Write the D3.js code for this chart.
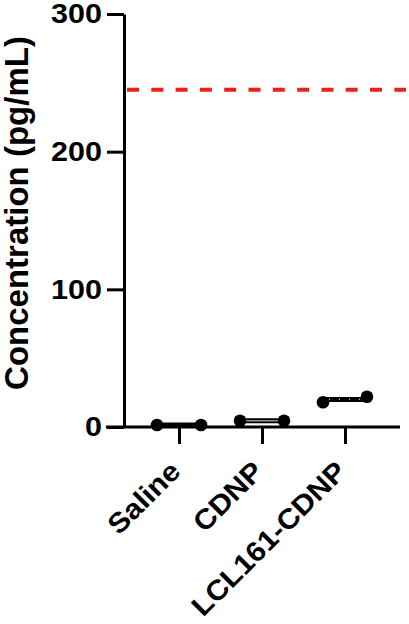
<!DOCTYPE html>
<html lang="en">
<head>
<meta charset="utf-8">
<title>Concentration</title>
<script src="https://d3js.org/d3.v7.min.js"></script>
<style>
  body { margin: 0; background: #fff; }
  text { font-family: "Liberation Sans", Arial, sans-serif; font-weight: bold; }
</style>
</head>
<body>
<div id="chart"></div>
<script>
    // Data
    const groups = ["Saline", "CDNP", "LCL161-CDNP"];
    const values = [[1.5, 1.5], [4.5, 4.5], [18, 22]];
    const yTicks = [0, 100, 200, 300];
    const threshold = 245;
    const yLabel = "Concentration (pg/mL)";

    const width = 409, height = 624;

    const svg = d3.select("#chart").append("svg")
        .attr("width", width)
        .attr("height", height);

    // Scales
    const x = d3.scalePoint()
        .domain(groups)
        .range([124, 400])
        .padding(0.663);

    const y = d3.scaleLinear()
        .domain([0, 300])
        .range([427, 14]);

    // Y axis
    const yAxis = svg.append("g")
        .attr("transform", "translate(124,0)")
        .call(d3.axisLeft(y).tickValues(yTicks).tickSize(17).tickSizeOuter(0));
    yAxis.select(".domain").attr("stroke-width", 3);
    yAxis.selectAll(".tick line").attr("stroke-width", 3);
    yAxis.selectAll(".tick text")
        .attr("x", 0)
        .attr("transform", "translate(-22,0) scale(1.09,1)")
        .attr("font-size", 28)
        .attr("font-family", "Liberation Sans, Arial, sans-serif")
        .attr("font-weight", "bold")
        .attr("fill", "#000");

    // X axis (extends left past the y axis, Prism style)
    const xAxis = svg.append("g")
        .attr("transform", `translate(0,${y(0)})`)
        .call(d3.axisBottom(x).tickSize(17).tickSizeOuter(0).tickFormat(""));
    xAxis.select(".domain")
        .attr("d", `M106,0H400`)
        .attr("stroke-width", 3);
    xAxis.selectAll(".tick line").attr("stroke-width", 3);

    // Rotated category labels
    svg.append("g").selectAll("text")
        .data(groups)
        .enter()
        .append("text")
        .attr("transform", d => `translate(${x(d) + 3},${y(0) + 46}) rotate(-45) scale(1.08,1)`)
        .attr("text-anchor", "end")
        .attr("font-size", 28)
        .attr("fill", "#000")
        .text(d => d);

    // Y axis title
    svg.append("text")
        .attr("transform", "translate(28,213) rotate(-90)")
        .attr("text-anchor", "middle")
        .attr("font-size", 33)
        .attr("fill", "#000")
        .text(yLabel);

    // Threshold line
    svg.append("line")
        .attr("x1", 127)
        .attr("x2", 406)
        .attr("y1", y(threshold))
        .attr("y2", y(threshold))
        .attr("stroke", "#e8221b")
        .attr("stroke-width", 4)
        .attr("stroke-dasharray", "12,12.3");

    // Points and mean lines
    const jitter = 22;
    groups.forEach((g, i) => {
        const vals = values[i];
        const mean = d3.mean(vals);
        const cx = x(g);
        svg.append("line")
            .attr("x1", cx - jitter)
            .attr("x2", cx + jitter)
            .attr("y1", y(mean))
            .attr("y2", y(mean))
            .attr("stroke", "#000")
            .attr("stroke-width", 5);
        if (i > 0) {
            svg.append("line")
                .attr("x1", cx - jitter + 6)
                .attr("x2", cx + jitter - 6)
                .attr("y1", y(mean))
                .attr("y2", y(mean))
                .attr("stroke", "#bbb")
                .attr("stroke-width", 1.2)
                .attr("stroke-dasharray", i === 1 ? null : "1,9");
        }
        svg.selectAll(null)
            .data(vals)
            .enter()
            .append("circle")
            .attr("cx", (d, j) => cx + (j === 0 ? -jitter : jitter))
            .attr("cy", d => y(d))
            .attr("r", 6.3)
            .attr("fill", "#000");
    });
</script>
</body>
</html>
